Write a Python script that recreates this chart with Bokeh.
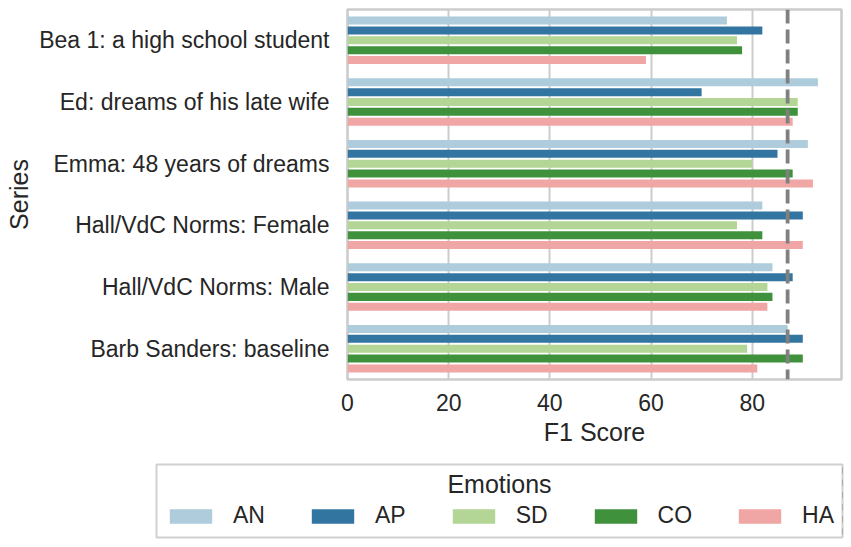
from bokeh.plotting import figure
from bokeh.layouts import column
from bokeh.models import (FactorRange, Range1d, ColumnDataSource, Span, Legend,
                          LegendItem, FixedTicker, Label)
from bokeh.transform import dodge
from bokeh.embed import file_html
from bokeh.resources import INLINE

series = ["Bea 1: a high school student", "Ed: dreams of his late wife",
          "Emma: 48 years of dreams", "Hall/VdC Norms: Female",
          "Hall/VdC Norms: Male", "Barb Sanders: baseline"]
emotions = ["AN", "AP", "SD", "CO", "HA"]
AN = [75, 93, 91, 82, 84, 87]
AP = [82, 70, 85, 90, 88, 90]
SD = [77, 89, 80, 77, 83, 79]
CO = [78, 89, 88, 82, 84, 90]
HA = [59, 88, 92, 90, 83, 81]
baseline = 87
x_ticks = [0, 20, 40, 60, 80]

colors = ["#aeccdb", "#3275a1", "#b3d595", "#40913b", "#efa6a5"]
offsets = [0.32, 0.16, 0.0, -0.16, -0.32]

FONT = "Liberation Sans"
TXT = "#262626"

source = ColumnDataSource(dict(series=series, AN=AN, AP=AP, SD=SD, CO=CO, HA=HA))

p = figure(width=851, height=455, y_range=FactorRange(factors=list(reversed(series))),
           x_range=Range1d(0, 97.65), output_backend="svg", toolbar_location=None,
           min_border_left=347, min_border_right=10, min_border_top=9,
           min_border_bottom=76)
p.frame_align = False
p.y_range.range_padding = 0
p.background_fill_color = "white"
p.border_fill_color = "white"
p.outline_line_color = "#cccccc"
p.outline_line_width = 2.6

for em, col, off in zip(emotions, colors, offsets):
    p.hbar(y=dodge("series", off, range=p.y_range), right=em, left=0,
           height=0.13, source=source, fill_color=col, line_color=None)

p.add_layout(Span(location=baseline, dimension="height", line_color="#808080",
                  line_width=3.8, line_dash="14 6"))

p.xgrid.grid_line_color = "#cccccc"
p.xgrid.grid_line_width = 2
p.ygrid.grid_line_color = None
p.xaxis.ticker = FixedTicker(ticks=x_ticks)

for ax in (p.xaxis[0], p.yaxis[0]):
    ax.axis_line_color = None
    ax.major_tick_line_color = None
    ax.minor_tick_line_color = None
    ax.major_tick_out = 0
    ax.major_tick_in = 0
    ax.minor_tick_out = 0
    ax.minor_tick_in = 0
    ax.major_label_text_font = FONT
    ax.major_label_text_font_size = "23px"
    ax.major_label_text_color = TXT
    ax.axis_label_text_font = FONT
    ax.axis_label_text_font_size = "25px"
    ax.axis_label_text_font_style = "normal"
    ax.axis_label_text_color = TXT

p.xaxis.axis_label = "F1 Score"
p.yaxis.axis_label = "Series"
p.xaxis.major_label_standoff = 14
p.xaxis.axis_label_standoff = 4
p.yaxis.major_label_standoff = 18
p.yaxis.axis_label_standoff = 3

# legend panel (its frame is the legend box)
p2 = figure(width=851, height=92, output_backend="svg", toolbar_location=None,
            y_range=FactorRange(factors=list(reversed(series))),
            x_range=Range1d(-2, -1),
            min_border_left=156, min_border_right=9, min_border_top=9,
            min_border_bottom=10)
p2.frame_align = False
p2.xaxis.visible = False
p2.yaxis.visible = False
p2.xgrid.visible = False
p2.ygrid.visible = False
p2.background_fill_color = "white"
p2.border_fill_color = "white"
p2.outline_line_color = "#d0d0d0"
p2.outline_line_width = 2

items = []
for em, col in zip(emotions, colors):
    r = p2.hbar(y="series", right=em, left=0, height=0.5, source=source,
                fill_color=col, line_color=None)
    items.append(LegendItem(label=em, renderers=[r]))

legend = Legend(items=items, orientation="horizontal", location=(8, 8))
legend.label_text_font = FONT
legend.label_text_font_size = "23px"
legend.label_text_color = TXT
legend.glyph_width = 53
legend.glyph_height = 18
legend.label_standoff = 16
legend.label_width = 0
legend.label_height = 26
legend.spacing = 41
legend.padding = 0
legend.margin = 0
legend.border_line_color = None
legend.background_fill_alpha = 0
p2.add_layout(legend, "center")

p2.add_layout(Label(x=343, y=54, x_units="screen", y_units="screen", text="Emotions",
                    text_align="center", text_baseline="middle", text_font=FONT,
                    text_font_size="25px", text_color=TXT))

open("out.html", "w").write(file_html(column(p, p2), INLINE))
